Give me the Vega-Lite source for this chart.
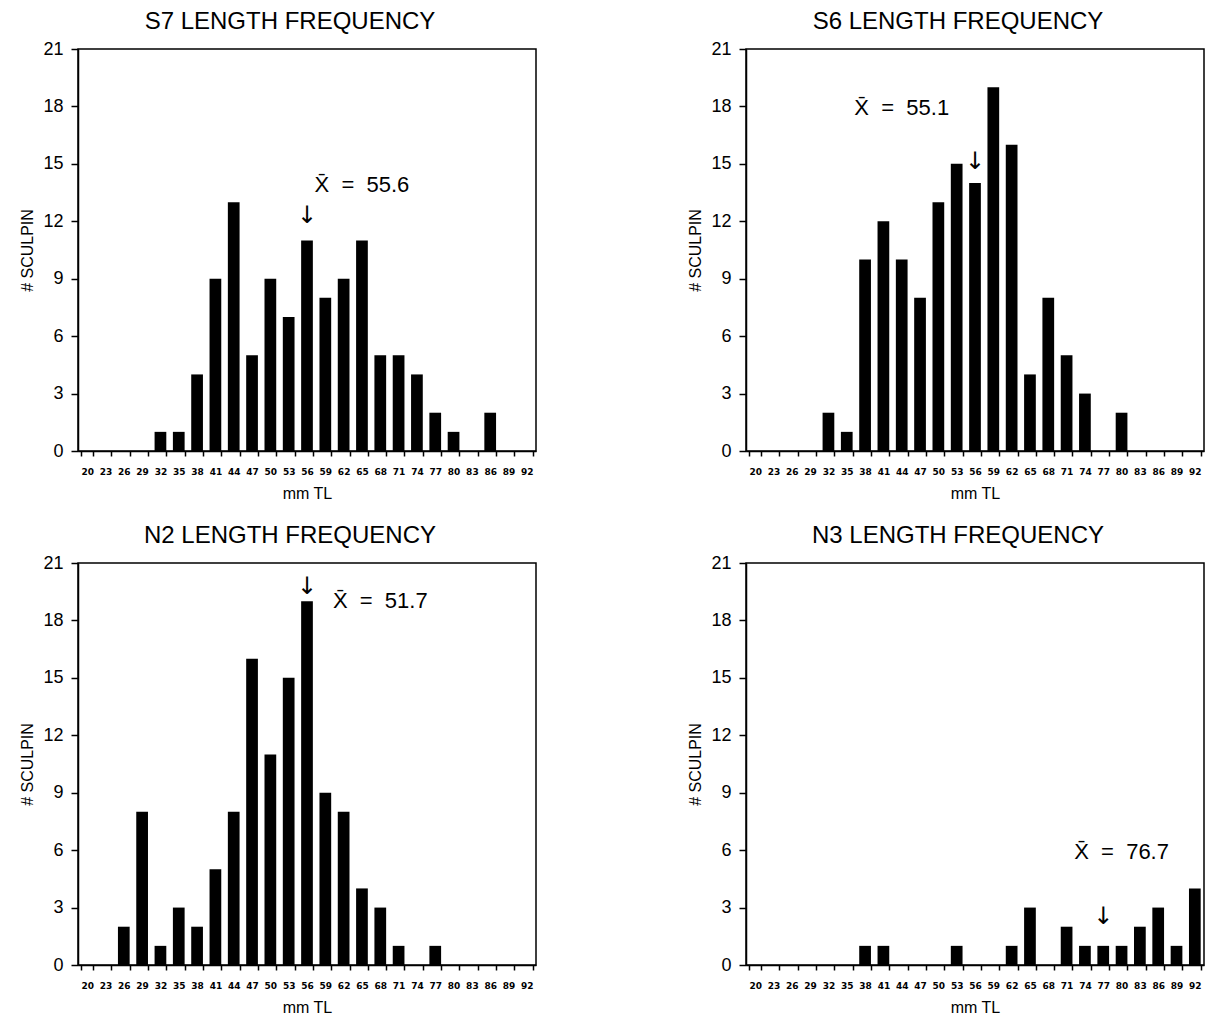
{
  "$schema": "https://vega.github.io/schema/vega-lite/v6.json",
  "padding": {"left": 19, "top": 9, "right": 5, "bottom": 5},
  "background": "white",
  "columns": 2,
  "spacing": {"row": 112, "column": 210},
  "bounds": "flush",
  "datasets": {
    "counts": [
      {"site": "S7", "mm": 32, "n": 1}, {"site": "S7", "mm": 35, "n": 1}, {"site": "S7", "mm": 38, "n": 4},
      {"site": "S7", "mm": 41, "n": 9}, {"site": "S7", "mm": 44, "n": 13}, {"site": "S7", "mm": 47, "n": 5},
      {"site": "S7", "mm": 50, "n": 9}, {"site": "S7", "mm": 53, "n": 7}, {"site": "S7", "mm": 56, "n": 11},
      {"site": "S7", "mm": 59, "n": 8}, {"site": "S7", "mm": 62, "n": 9}, {"site": "S7", "mm": 65, "n": 11},
      {"site": "S7", "mm": 68, "n": 5}, {"site": "S7", "mm": 71, "n": 5}, {"site": "S7", "mm": 74, "n": 4},
      {"site": "S7", "mm": 77, "n": 2}, {"site": "S7", "mm": 80, "n": 1}, {"site": "S7", "mm": 86, "n": 2},
      {"site": "S6", "mm": 32, "n": 2}, {"site": "S6", "mm": 35, "n": 1}, {"site": "S6", "mm": 38, "n": 10},
      {"site": "S6", "mm": 41, "n": 12}, {"site": "S6", "mm": 44, "n": 10}, {"site": "S6", "mm": 47, "n": 8},
      {"site": "S6", "mm": 50, "n": 13}, {"site": "S6", "mm": 53, "n": 15}, {"site": "S6", "mm": 56, "n": 14},
      {"site": "S6", "mm": 59, "n": 19}, {"site": "S6", "mm": 62, "n": 16}, {"site": "S6", "mm": 65, "n": 4},
      {"site": "S6", "mm": 68, "n": 8}, {"site": "S6", "mm": 71, "n": 5}, {"site": "S6", "mm": 74, "n": 3},
      {"site": "S6", "mm": 80, "n": 2},
      {"site": "N2", "mm": 26, "n": 2}, {"site": "N2", "mm": 29, "n": 8}, {"site": "N2", "mm": 32, "n": 1},
      {"site": "N2", "mm": 35, "n": 3}, {"site": "N2", "mm": 38, "n": 2}, {"site": "N2", "mm": 41, "n": 5},
      {"site": "N2", "mm": 44, "n": 8}, {"site": "N2", "mm": 47, "n": 16}, {"site": "N2", "mm": 50, "n": 11},
      {"site": "N2", "mm": 53, "n": 15}, {"site": "N2", "mm": 56, "n": 19}, {"site": "N2", "mm": 59, "n": 9},
      {"site": "N2", "mm": 62, "n": 8}, {"site": "N2", "mm": 65, "n": 4}, {"site": "N2", "mm": 68, "n": 3},
      {"site": "N2", "mm": 71, "n": 1}, {"site": "N2", "mm": 77, "n": 1},
      {"site": "N3", "mm": 38, "n": 1}, {"site": "N3", "mm": 41, "n": 1}, {"site": "N3", "mm": 53, "n": 1},
      {"site": "N3", "mm": 62, "n": 1}, {"site": "N3", "mm": 65, "n": 3}, {"site": "N3", "mm": 71, "n": 2},
      {"site": "N3", "mm": 74, "n": 1}, {"site": "N3", "mm": 77, "n": 1}, {"site": "N3", "mm": 80, "n": 1},
      {"site": "N3", "mm": 83, "n": 2}, {"site": "N3", "mm": 86, "n": 3}, {"site": "N3", "mm": 89, "n": 1},
      {"site": "N3", "mm": 92, "n": 4}
    ],
    "notes": [
      {"site": "S7", "kind": "mean", "mm": 65, "n": 13.9, "label": "X\u0304\u00a0\u00a0=\u00a0\u00a055.6"},
      {"site": "S7", "kind": "arrow", "mm": 56, "n": 12.3, "label": "\u2193"},
      {"site": "S6", "kind": "mean", "mm": 44, "n": 17.9, "label": "X\u0304\u00a0\u00a0=\u00a0\u00a055.1"},
      {"site": "S6", "kind": "arrow", "mm": 56, "n": 15.1, "label": "\u2193"},
      {"site": "N2", "kind": "mean", "mm": 68, "n": 19.0, "label": "X\u0304\u00a0\u00a0=\u00a0\u00a051.7"},
      {"site": "N2", "kind": "arrow", "mm": 56, "n": 19.75, "label": "\u2193"},
      {"site": "N3", "kind": "mean", "mm": 80, "n": 5.9, "label": "X\u0304\u00a0\u00a0=\u00a0\u00a076.7"},
      {"site": "N3", "kind": "arrow", "mm": 77, "n": 2.5, "label": "\u2193"}
    ]
  },
  "concat": [
    {
      "title": {"text": "S7 LENGTH FREQUENCY"},
      "width": 458, "height": 402,
      "layer": [
        {
          "data": {"name": "counts"},
          "transform": [{"filter": "datum.site === 'S7'"}],
          "mark": {"type": "bar", "color": "black"},
          "encoding": {
            "x": {"field": "mm", "type": "ordinal", "title": "mm TL",
                  "scale": {"domain": [20,23,26,29,32,35,38,41,44,47,50,53,56,59,62,65,68,71,74,77,80,83,86,89,92], "paddingInner": 0.36, "paddingOuter": 0.18}},
            "y": {"field": "n", "type": "quantitative", "title": "# SCULPIN",
                  "scale": {"domain": [0, 21], "nice": false},
                  "axis": {"values": [0,1.5,3,4.5,6,7.5,9,10.5,12,13.5,15,16.5,18,19.5,21], "labelFontSize": 18,
                           "labelExpr": "datum.value % 3 === 0 ? datum.label : ''",
                           "tickSize": {"condition": {"test": "datum.value % 3 === 0", "value": 7}, "value": 3}}}
          }
        },
        {
          "data": {"name": "notes"},
          "transform": [{"filter": "datum.site === 'S7' && datum.kind === 'mean'"}],
          "mark": {"type": "text", "fontSize": 22, "font": "Liberation Sans", "color": "black", "align": "center", "baseline": "middle"},
          "encoding": {"x": {"field": "mm", "type": "ordinal"}, "y": {"field": "n", "type": "quantitative"}, "text": {"field": "label"}}
        },
        {
          "data": {"name": "notes"},
          "transform": [{"filter": "datum.site === 'S7' && datum.kind === 'arrow'"}],
          "mark": {"type": "text", "fontSize": 24, "font": "DejaVu Sans", "fontWeight": "normal", "color": "black", "align": "center", "baseline": "middle"},
          "encoding": {"x": {"field": "mm", "type": "ordinal"}, "y": {"field": "n", "type": "quantitative"}, "text": {"field": "label"}}
        }
      ]
    },
    {
      "title": {"text": "S6 LENGTH FREQUENCY"},
      "width": 458, "height": 402,
      "layer": [
        {
          "data": {"name": "counts"},
          "transform": [{"filter": "datum.site === 'S6'"}],
          "mark": {"type": "bar", "color": "black"},
          "encoding": {
            "x": {"field": "mm", "type": "ordinal", "title": "mm TL",
                  "scale": {"domain": [20,23,26,29,32,35,38,41,44,47,50,53,56,59,62,65,68,71,74,77,80,83,86,89,92], "paddingInner": 0.36, "paddingOuter": 0.18}},
            "y": {"field": "n", "type": "quantitative", "title": "# SCULPIN",
                  "scale": {"domain": [0, 21], "nice": false},
                  "axis": {"values": [0,1.5,3,4.5,6,7.5,9,10.5,12,13.5,15,16.5,18,19.5,21], "labelFontSize": 18,
                           "labelExpr": "datum.value % 3 === 0 ? datum.label : ''",
                           "tickSize": {"condition": {"test": "datum.value % 3 === 0", "value": 7}, "value": 3}}}
          }
        },
        {
          "data": {"name": "notes"},
          "transform": [{"filter": "datum.site === 'S6' && datum.kind === 'mean'"}],
          "mark": {"type": "text", "fontSize": 22, "font": "Liberation Sans", "color": "black", "align": "center", "baseline": "middle"},
          "encoding": {"x": {"field": "mm", "type": "ordinal"}, "y": {"field": "n", "type": "quantitative"}, "text": {"field": "label"}}
        },
        {
          "data": {"name": "notes"},
          "transform": [{"filter": "datum.site === 'S6' && datum.kind === 'arrow'"}],
          "mark": {"type": "text", "fontSize": 24, "font": "DejaVu Sans", "fontWeight": "normal", "color": "black", "align": "center", "baseline": "middle"},
          "encoding": {"x": {"field": "mm", "type": "ordinal"}, "y": {"field": "n", "type": "quantitative"}, "text": {"field": "label"}}
        }
      ]
    },
    {
      "title": {"text": "N2 LENGTH FREQUENCY"},
      "width": 458, "height": 402,
      "layer": [
        {
          "data": {"name": "counts"},
          "transform": [{"filter": "datum.site === 'N2'"}],
          "mark": {"type": "bar", "color": "black"},
          "encoding": {
            "x": {"field": "mm", "type": "ordinal", "title": "mm TL",
                  "scale": {"domain": [20,23,26,29,32,35,38,41,44,47,50,53,56,59,62,65,68,71,74,77,80,83,86,89,92], "paddingInner": 0.36, "paddingOuter": 0.18}},
            "y": {"field": "n", "type": "quantitative", "title": "# SCULPIN",
                  "scale": {"domain": [0, 21], "nice": false},
                  "axis": {"values": [0,1.5,3,4.5,6,7.5,9,10.5,12,13.5,15,16.5,18,19.5,21], "labelFontSize": 18,
                           "labelExpr": "datum.value % 3 === 0 ? datum.label : ''",
                           "tickSize": {"condition": {"test": "datum.value % 3 === 0", "value": 7}, "value": 3}}}
          }
        },
        {
          "data": {"name": "notes"},
          "transform": [{"filter": "datum.site === 'N2' && datum.kind === 'mean'"}],
          "mark": {"type": "text", "fontSize": 22, "font": "Liberation Sans", "color": "black", "align": "center", "baseline": "middle"},
          "encoding": {"x": {"field": "mm", "type": "ordinal"}, "y": {"field": "n", "type": "quantitative"}, "text": {"field": "label"}}
        },
        {
          "data": {"name": "notes"},
          "transform": [{"filter": "datum.site === 'N2' && datum.kind === 'arrow'"}],
          "mark": {"type": "text", "fontSize": 24, "font": "DejaVu Sans", "fontWeight": "normal", "color": "black", "align": "center", "baseline": "middle"},
          "encoding": {"x": {"field": "mm", "type": "ordinal"}, "y": {"field": "n", "type": "quantitative"}, "text": {"field": "label"}}
        }
      ]
    },
    {
      "title": {"text": "N3 LENGTH FREQUENCY"},
      "width": 458, "height": 402,
      "layer": [
        {
          "data": {"name": "counts"},
          "transform": [{"filter": "datum.site === 'N3'"}],
          "mark": {"type": "bar", "color": "black"},
          "encoding": {
            "x": {"field": "mm", "type": "ordinal", "title": "mm TL",
                  "scale": {"domain": [20,23,26,29,32,35,38,41,44,47,50,53,56,59,62,65,68,71,74,77,80,83,86,89,92], "paddingInner": 0.36, "paddingOuter": 0.18}},
            "y": {"field": "n", "type": "quantitative", "title": "# SCULPIN",
                  "scale": {"domain": [0, 21], "nice": false},
                  "axis": {"values": [0,1.5,3,4.5,6,7.5,9,10.5,12,13.5,15,16.5,18,19.5,21], "labelFontSize": 18,
                           "labelExpr": "datum.value % 3 === 0 ? datum.label : ''",
                           "tickSize": {"condition": {"test": "datum.value % 3 === 0", "value": 7}, "value": 3}}}
          }
        },
        {
          "data": {"name": "notes"},
          "transform": [{"filter": "datum.site === 'N3' && datum.kind === 'mean'"}],
          "mark": {"type": "text", "fontSize": 22, "font": "Liberation Sans", "color": "black", "align": "center", "baseline": "middle"},
          "encoding": {"x": {"field": "mm", "type": "ordinal"}, "y": {"field": "n", "type": "quantitative"}, "text": {"field": "label"}}
        },
        {
          "data": {"name": "notes"},
          "transform": [{"filter": "datum.site === 'N3' && datum.kind === 'arrow'"}],
          "mark": {"type": "text", "fontSize": 24, "font": "DejaVu Sans", "fontWeight": "normal", "color": "black", "align": "center", "baseline": "middle"},
          "encoding": {"x": {"field": "mm", "type": "ordinal"}, "y": {"field": "n", "type": "quantitative"}, "text": {"field": "label"}}
        }
      ]
    }
  ],
  "config": {
    "view": {"stroke": "black", "strokeWidth": 1.5},
    "font": "Liberation Sans",
    "title": {"fontSize": 24, "fontWeight": "normal", "font": "Liberation Sans", "color": "black", "dx": -17, "offset": 6, "anchor": "middle"},
    "axis": {"domainColor": "black", "tickColor": "black", "labelColor": "black", "titleColor": "black", "grid": false, "domainWidth": 1.5, "tickWidth": 1.5, "titleFont": "Liberation Sans"},
    "axisX": {"labelAngle": 0, "labelFontSize": 9, "labelFontWeight": "bold", "labelFont": "DejaVu Sans", "tickBand": "extent", "tickSize": 5, "labelPadding": 11, "labelOverlap": false, "titleFontSize": 16, "titleFontWeight": "normal", "titlePadding": 9},
    "axisY": {"labelFontSize": 18, "labelFont": "Liberation Sans", "labelPadding": 8, "titleFontSize": 16, "titleFontWeight": "normal", "titlePadding": 7}
  }
}
